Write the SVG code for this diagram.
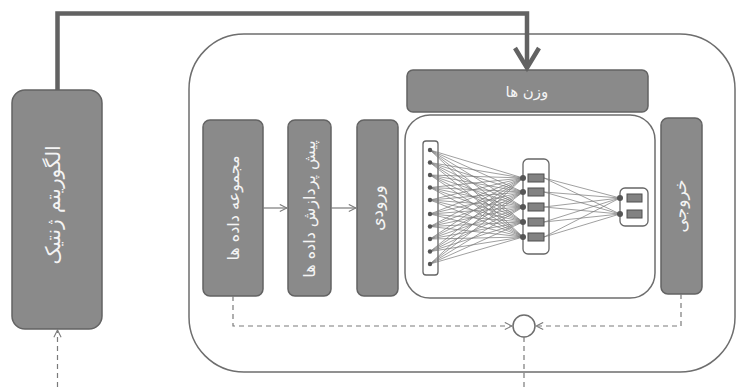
<svg xmlns="http://www.w3.org/2000/svg" width="737" height="387" viewBox="0 0 737 387">
<style>
.box{fill:#8a8a8a;stroke:#636363;stroke-width:1.5}
.frame{fill:#fff;stroke:#6e6e6e;stroke-width:1.5}
.lbl{font-family:"DejaVu Sans",sans-serif;fill:#f4f4f4;text-anchor:middle;dominant-baseline:central}
.thin{fill:none;stroke:#7a7a7a;stroke-width:1.2}
.dash{fill:none;stroke:#7a7a7a;stroke-width:1.2;stroke-dasharray:5 4}
.nn{stroke:#777;stroke-width:0.7;fill:none}
.dot{fill:#555}
.hr{fill:#828282;stroke:#4f4f4f;stroke-width:1}
.col{fill:#fff;stroke:#666;stroke-width:1.3}
</style>
<defs>
<marker id="open" viewBox="0 0 10 10" refX="9" refY="5" markerWidth="9" markerHeight="9" orient="auto" markerUnits="userSpaceOnUse">
<path d="M1,1 L9,5 L1,9" fill="none" stroke="#7a7a7a" stroke-width="1.2"/>
</marker>
</defs>

<g id="frame">
<rect class="frame" x="189" y="34" width="546" height="338" rx="55"/>
</g>

<g id="genetic">
<rect class="box" x="12" y="90" width="90" height="239" rx="13"/>
<text class="lbl" transform="translate(53,205) rotate(-90)" font-size="20">الگوریتم ژنتیک</text>
</g>

<g id="weights">
<rect class="box" x="407" y="70" width="241" height="42" rx="6"/>
<text class="lbl" x="527" y="92" font-size="15">وزن ها</text>
</g>

<g id="dataset">
<rect class="box" x="203" y="120" width="60" height="176" rx="7"/>
<text class="lbl" transform="translate(233,208) rotate(-90)" font-size="16">مجموعه داده ها</text>
</g>

<g id="preprocess">
<rect class="box" x="288" y="120" width="43" height="176" rx="7"/>
<text class="lbl" transform="translate(309,209) rotate(-90)" font-size="16">پیش پردازش داده ها</text>
</g>

<g id="input">
<rect class="box" x="357" y="120" width="41" height="176" rx="7"/>
<text class="lbl" transform="translate(377,208) rotate(-90)" font-size="17">ورودی</text>
</g>

<g id="output">
<rect class="box" x="661" y="118" width="41" height="176" rx="7"/>
<text class="lbl" transform="translate(680,206) rotate(-90)" font-size="17">خروجی</text>
</g>

<g id="network">
<rect class="frame" x="405" y="115" width="250" height="183" rx="25"/>
<rect class="col" x="423" y="141" width="15" height="134" rx="3"/>
<rect class="col" x="523" y="159" width="26" height="95" rx="5"/>
<rect class="col" x="620" y="188" width="28" height="38" rx="5"/>
<g class="nn">
<path d="M430,150 L523,178 M430,150 L523,192 M430,150 L523,207 M430,150 L523,222 M430,150 L523,237
M430,162.5 L523,178 M430,162.5 L523,192 M430,162.5 L523,207 M430,162.5 L523,222 M430,162.5 L523,237
M430,175 L523,178 M430,175 L523,192 M430,175 L523,207 M430,175 L523,222 M430,175 L523,237
M430,187.5 L523,178 M430,187.5 L523,192 M430,187.5 L523,207 M430,187.5 L523,222 M430,187.5 L523,237
M430,200 L523,178 M430,200 L523,192 M430,200 L523,207 M430,200 L523,222 M430,200 L523,237
M430,214 L523,178 M430,214 L523,192 M430,214 L523,207 M430,214 L523,222 M430,214 L523,237
M430,226.5 L523,178 M430,226.5 L523,192 M430,226.5 L523,207 M430,226.5 L523,222 M430,226.5 L523,237
M430,239 L523,178 M430,239 L523,192 M430,239 L523,207 M430,239 L523,222 M430,239 L523,237
M430,251.5 L523,178 M430,251.5 L523,192 M430,251.5 L523,207 M430,251.5 L523,222 M430,251.5 L523,237
M430,264 L523,178 M430,264 L523,192 M430,264 L523,207 M430,264 L523,222 M430,264 L523,237"/>
<path d="M544,178 L620,198 M544,178 L620,214 M544,192 L620,198 M544,192 L620,214 M544,207 L620,198 M544,207 L620,214 M544,222 L620,198 M544,222 L620,214 M544,237 L620,198 M544,237 L620,214"/>
</g>
<g class="dot">
<circle cx="430" cy="150" r="2.2"/><circle cx="430" cy="162.5" r="2.2"/><circle cx="430" cy="175" r="2.2"/><circle cx="430" cy="187.5" r="2.2"/><circle cx="430" cy="200" r="2.2"/>
<circle cx="430" cy="214" r="2.2"/><circle cx="430" cy="226.5" r="2.2"/><circle cx="430" cy="239" r="2.2"/><circle cx="430" cy="251.5" r="2.2"/><circle cx="430" cy="264" r="2.2"/>
<circle cx="523" cy="178" r="3"/><circle cx="523" cy="192" r="3"/><circle cx="523" cy="207" r="3"/><circle cx="523" cy="222" r="3"/><circle cx="523" cy="237" r="3"/>
<circle cx="620" cy="198" r="3"/><circle cx="620" cy="214" r="3"/>
</g>
<rect class="hr" x="528" y="174" width="16" height="8"/>
<rect class="hr" x="528" y="188" width="16" height="8"/>
<rect class="hr" x="528" y="203" width="16" height="8"/>
<rect class="hr" x="528" y="218" width="16" height="8"/>
<rect class="hr" x="528" y="233" width="16" height="8"/>
<rect class="hr" x="627" y="194" width="15" height="8"/>
<rect class="hr" x="627" y="210" width="15" height="8"/>
</g>

<g id="sum">
<circle cx="524" cy="326" r="11" fill="#fff" stroke="#6e6e6e" stroke-width="1.5"/>
</g>

<g id="connectors">
<path d="M57.5,90 V13.5 H527 V66" fill="none" stroke="#626262" stroke-width="4.5"/>
<path d="M515,48 L527,68 L539,48" fill="none" stroke="#626262" stroke-width="4.5" stroke-linejoin="miter"/>
<path class="thin" d="M263,208 H287" marker-end="url(#open)"/>
<path class="thin" d="M331,208 H356" marker-end="url(#open)"/>
<path class="dash" d="M233,296 V326 H512" marker-end="url(#open)"/>
<path class="dash" d="M681,294 V326 H536" marker-end="url(#open)"/>
<path class="dash" d="M524,337 V387"/>
<path class="dash" d="M57.5,387 V330" marker-end="url(#open)"/>
</g>
</svg>
